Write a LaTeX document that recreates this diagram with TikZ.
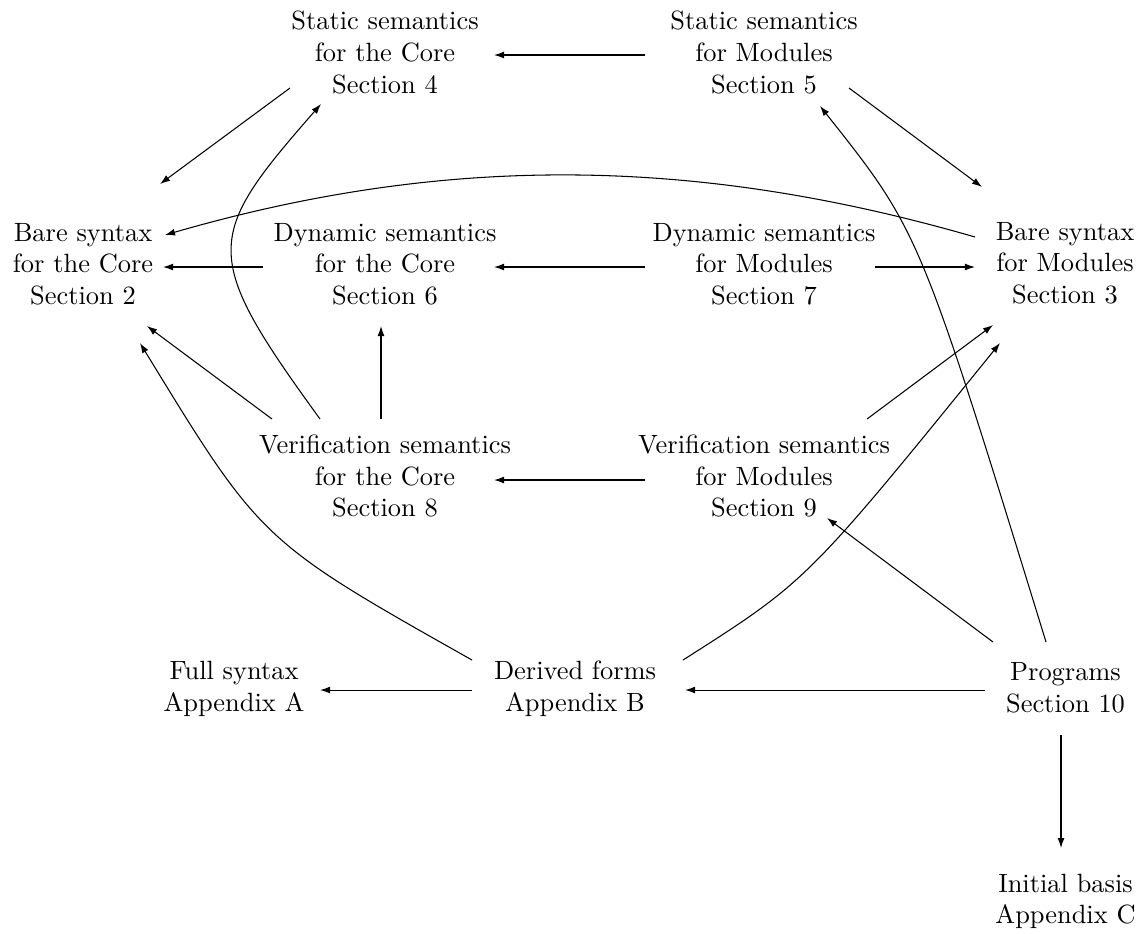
\documentclass[tikz,border=0pt]{standalone}
\usetikzlibrary{arrows.meta}
\begin{document}
\begin{tikzpicture}[x=0.378788pt,y=-0.378788pt,
  lbl/.style={align=center,inner sep=0pt},
  arr/.style={-{Latex[length=3.8pt,width=2.6pt]},line width=0.4pt}]
\useasboundingbox (0,0) rectangle (1146,933);
% nodes
\node[lbl] (s4) at (385,52.5) {Static semantics\\for the Core\\Section 4};
\node[lbl] (s5) at (764,52.5) {Static semantics\\for Modules\\Section 5};
\node[lbl] (s2) at (83,264) {Bare syntax\\for the Core\\Section 2};
\node[lbl] (s6) at (385,264) {Dynamic semantics\\for the Core\\Section 6};
\node[lbl] (s7) at (764,264) {Dynamic semantics\\for Modules\\Section 7};
\node[lbl] (s3) at (1065,263) {Bare syntax\\for Modules\\Section 3};
\node[lbl] (s8) at (385,476) {Verification semantics\\for the Core\\Section 8};
\node[lbl] (s9) at (764,476) {Verification semantics\\for Modules\\Section 9};
\node[lbl] (a) at (234,689) {Full syntax\\Appendix A};
\node[lbl] (b) at (575,689) {Derived forms\\Appendix B};
\node[lbl] (s10) at (1065.5,688) {Programs\\Section 10};
\node[lbl] (c) at (1065.5,901.5) {Initial basis\\Appendix C};
% straight connectors
\draw[arr] ([shift={(-119,2.5)}]s5.center) -- ([shift={(109,2.5)}]s4.center);
\draw[arr] ([shift={(-95,35.5)}]s4.center) -- ([shift={(77,-80)}]s2.center);
\draw[arr] ([shift={(85,35.5)}]s5.center) -- ([shift={(-83,-76)}]s3.center);
\draw[arr] ([shift={(-122,3)}]s6.center) -- ([shift={(80,3)}]s2.center);
\draw[arr] ([shift={(-119,3)}]s7.center) -- ([shift={(109,3)}]s6.center);
\draw[arr] ([shift={(111,3)}]s7.center) -- ([shift={(-90,4)}]s3.center);
\draw[arr] ([shift={(-113,-57)}]s8.center) -- ([shift={(64,62)}]s2.center);
\draw[arr] ([shift={(-4,-57)}]s8.center) -- ([shift={(-4,62)}]s6.center);
\draw[arr] ([shift={(-119,4)}]s9.center) -- ([shift={(109,4)}]s8.center);
\draw[arr] ([shift={(103,-57)}]s9.center) -- ([shift={(-72,62)}]s3.center);
\draw[arr] ([shift={(-103,1)}]b.center) -- ([shift={(86,1)}]a.center);
\draw[arr] ([shift={(-80.5,2)}]s10.center) -- ([shift={(110,1)}]b.center);
\draw[arr] ([shift={(-72.5,-46)}]s10.center) -- ([shift={(63,42)}]s9.center);
\draw[arr] ([shift={(-4.5,47)}]s10.center) -- ([shift={(-4.5,-53.5)}]c.center);
% curved connectors
\draw[arr] ([shift={(-90,-26)}]s3.center) .. controls (695,156) and (445,154) .. ([shift={(82,-29)}]s2.center);
\draw[arr] ([shift={(-65,-57)}]s8.center) .. controls (200.5,254.4) and (204,237.6) .. ([shift={(-64,51.5)}]s4.center);
\draw[arr] ([shift={(-103,-29)}]b.center) .. controls (261,541) and (261,541) .. ([shift={(57,79)}]s2.center);
\draw[arr] ([shift={(108,-29)}]b.center) .. controls (807,581) and (807,581) .. ([shift={(-65,80)}]s3.center);
\draw[arr] ([shift={(-19.5,-46)}]s10.center) .. controls (919.6,231.5) and (919.6,231.5) .. ([shift={(56,53.5)}]s5.center);
\end{tikzpicture}
\end{document}
